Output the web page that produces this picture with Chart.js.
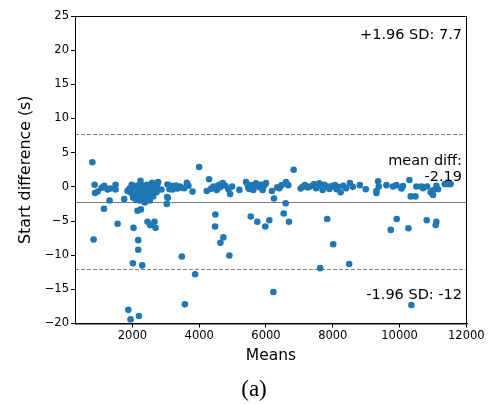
<!DOCTYPE html>
<html>
<head>
<meta charset="utf-8">
<script src="https://cdn.jsdelivr.net/npm/chart.js@4.4.0/dist/chart.umd.min.js"></script>
<style>
  html, body { margin: 0; padding: 0; background: #fff; }
  #wrap { width: 492px; height: 404px; }
</style>
</head>
<body>
<div id="wrap"><canvas id="myChart" width="492" height="404"></canvas></div>
<script>
// Means (x) og differanser (y) lest av figuren
const means = [
  800, 837, 1148, 1315, 1555, 2033, 2015, 2173, 2173, 2293, 1875, 1944, 2194, 2152, 2254,
  2451, 2532, 2661, 2691, 3480, 3570, 3877, 3997, 4484, 4475, 4725, 4635, 4903, 4296, 5543,
  5740, 5980, 6100, 6220, 6239, 6828, 6589, 6529, 6688, 7833, 8013, 7623, 8491, 9737, 9916,
  10266, 10813, 11082, 11103, 10356, 3030, 3061, 3800,
  867, 880, 957, 1076, 1157, 1255, 1336, 1495, 1495, 1755, 1854, 1913, 2003, 2084, 2152,
  2242, 2254, 2302, 2404, 2502, 2592, 2472, 2374, 2652, 2771, 2870, 3049, 3109, 3040, 3169,
  3348, 3429, 1943, 2024,
  3629, 3677, 3480, 4227, 4425, 4526, 4625, 4705, 4783, 4873, 4924, 4984, 5202, 5402, 5471,
  5572, 5620, 5800, 5901, 6000, 6179, 6338, 6469, 6598,
  6667, 7037, 7166, 7316, 7435, 7564, 7695, 7814, 7934, 8063, 8113, 8233, 8311, 8511, 8810,
  8989, 9309,
  9357, 9378, 9309, 9608, 9806, 9906, 10056, 10296, 10335, 10476, 10505, 10655, 10822, 10933, 11002,
  11103, 11152, 11351, 11451, 11530,
  1960, 1990, 2050, 2060, 2100, 2110, 2130, 2180, 2200, 2220, 2260, 2280, 2320, 2340, 2360,
  2420, 2440, 2460, 2500, 2520, 2540, 2560, 2600, 2620, 2700, 2720, 2740, 1980, 2150, 2090,
  3200, 3300, 3550, 4350, 4550, 4600, 5450, 5500, 5650, 5700, 5850, 5950, 6400, 7100, 7250,
  7500, 7600, 7750, 7900, 8000, 8150, 8400, 8600, 10100, 10700, 11000
];
const diffs = [
  3.6, -7.7, -3.2, -2.0, -5.4, -6.0, -11.2, -7.8, -9.2, -11.5, -18.0, -19.4, -18.9, -3.5, -3.3,
  -5.1, -5.6, -5.1, -6.0, -10.2, -17.2, -12.8, 2.9, -4.05, -5.8, -7.4, -8.2, -10.05, 1.1, -4.35,
  -5.1, -5.8, -4.9, -15.4, -1.7, 2.5, -2.4, -3.9, -5.1, -4.7, -8.4, -11.9, -11.3, -6.3, -4.7,
  -6.05, -4.9, -5.6, -5.1, -17.3, -2.5, -1.6, -0.7,
  0.3, -0.9, -0.7, -0.15, 0.15, -0.4, -0.25, 0.3, -0.4, -1.8, -0.6, -0.25, 0.05, -0.9, -0.6,
  0.9, -0.15, -1.3, -0.35, -0.05, 0.6, -1.7, -2.3, -0.15, 0.7, -0.4, 0.35, -0.35, -1.5, 0.15,
  -0.25, 0.05, -0.8, -1.6,
  0.6, 0.15, -0.15, -0.6, 0.05, -0.45, -0.05, 0.55, 0.15, -0.35, -1.05, 0.05, -0.45, 0.7, -0.15,
  0.25, -0.45, -0.05, -0.45, 0.55, -0.6, -0.05, 0.25, 0.7,
  0.25, -0.25, 0.25, 0.05, 0.4, 0.25, -0.45, 0.05, 0.05, 0.25, -0.35, -0.8, 0.15, 0.55, 0.25,
  -0.35, -0.9,
  0.8, 0.05, -0.6, 0.25, 0.05, 0.25, -0.25, 1.0, -1.4, -1.4, 0.05, 0.05, 0.05, -0.8, -1.2,
  0.15, -0.35, 0.4, 0.4, 0.4,
  -0.3, -1.0, -0.4, -1.3, -0.2, -1.9, -0.8, -1.2, -0.3, -2.0, -0.9, -0.5, 0.2, -0.8, -1.6,
  -0.9, 0.3, -1.2, -0.6, -2.0, 0.2, -1.0, -0.5, -1.4, -0.3, -0.8, 0.3, 0.3, 0.2, 0.0,
  -0.4, 0.2, -0.2, -0.3, 0.1, 0.3, 0.3, -0.3, 0.1, 0.5, 0.3, 0.2, -0.2, 0.0, -0.1,
  -0.2, 0.5, 0.3, -0.3, 0.1, 0.0, -0.2, 0.0, 0.1, -0.2, -0.5
];

// Tick-verdier
const xTicks = [2000, 4000, 6000, 8000, 10000, 12000];
const yTicks = [-20, -15, -10, -5, 0, 5, 10, 15, 20, 25];

// Statistikk (linjer og tekst)
const meanDiff = -2.19;
const upperLoA = 7.7;
const lowerLoA = -12.08;

const FONT = 'DejaVu Sans';

// Linjer, tekst, ramme og "(a)"
const baPlugin = {
  id: 'baPlugin',
  beforeDatasetsDraw(chart) {
    const ctx = chart.ctx;
    const area = chart.chartArea;
    const y = chart.scales.y;
    ctx.save();
    ctx.lineWidth = 1;
    ctx.strokeStyle = '#808080';
    [[upperLoA, [4, 2]], [meanDiff, []], [lowerLoA, [4, 2]]].forEach(function (l) {
      const py = Math.round(y.getPixelForValue(l[0])) + 0.5;
      ctx.setLineDash(l[1]);
      ctx.beginPath();
      ctx.moveTo(area.left, py);
      ctx.lineTo(area.right, py);
      ctx.stroke();
    });
    ctx.restore();
  },
  afterDraw(chart) {
    const ctx = chart.ctx;
    const area = chart.chartArea;
    const y = chart.scales.y;
    ctx.save();
    // ramme
    ctx.strokeStyle = '#000';
    ctx.lineWidth = 1;
    ctx.strokeRect(area.left + 0.5, area.top + 0.5, area.right - area.left - 1, area.bottom - area.top);
    // tekst
    ctx.fillStyle = '#000';
    ctx.font = '14.5px "' + FONT + '"';
    ctx.textAlign = 'right';
    ctx.textBaseline = 'middle';
    const tx = area.right - 5;
    ctx.fillText('+1.96 SD: ' + upperLoA, tx, area.top + 19);
    const my = y.getPixelForValue(meanDiff);
    ctx.fillText('mean diff:', tx, my - 41);
    ctx.fillText(String(meanDiff), tx, my - 25);
    ctx.fillText('-1.96 SD: ' + Math.round(lowerLoA), tx, y.getPixelForValue(lowerLoA) + 26);
    // "(a)"
    ctx.font = '23px "Liberation Serif"';
    ctx.textAlign = 'center';
    ctx.fillText('(a)', 254, 390);
    ctx.restore();
  }
};

function lagPlot() {
  const punkter = means.map(function (m, i) { return { x: m, y: diffs[i] }; });
  const ctx = document.getElementById('myChart').getContext('2d');
  new Chart(ctx, {
    type: 'scatter',
    data: {
      datasets: [{
        data: punkter,
        backgroundColor: '#1f77b4',
        borderWidth: 0,
        pointRadius: 3.3,
        pointHoverRadius: 3.3
      }]
    },
    options: {
      responsive: false,
      animation: false,
      devicePixelRatio: 1,
      layout: { padding: { left: 0, top: 16, right: 25, bottom: 35.5 } },
      plugins: { legend: { display: false }, tooltip: { enabled: false } },
      scales: {
        x: {
          type: 'linear',
          min: 280,
          max: 12020,
          afterBuildTicks: function (scale) {
            scale.ticks = xTicks.map(function (v) { return { value: v }; });
          },
          afterFit: function (scale) { scale.height = 45; },
          grid: { drawOnChartArea: false, drawTicks: true, tickLength: 4, color: '#000' },
          border: { display: true, color: '#000', width: 1 },
          ticks: {
            color: '#000',
            font: { family: FONT, size: 11.5 },
            padding: 2,
            maxRotation: 0,
            autoSkip: false,
            callback: function (v) { return String(v); }
          },
          title: {
            display: true,
            text: 'Means',
            color: '#000',
            font: { family: FONT, size: 15.5 },
            padding: { top: 0, bottom: 3 }
          }
        },
        y: {
          min: -20,
          max: 25,
          afterBuildTicks: function (scale) {
            scale.ticks = yTicks.map(function (v) { return { value: v }; });
          },
          afterFit: function (scale) { scale.width = 75; },
          grid: { drawOnChartArea: false, drawTicks: true, tickLength: 4, color: '#000' },
          border: { display: true, color: '#000', width: 1 },
          ticks: {
            color: '#000',
            font: { family: FONT, size: 11.5 },
            padding: 2,
            callback: function (v) { return v < 0 ? '\u2212' + Math.abs(v) : String(v); }
          },
          title: {
            display: true,
            text: 'Start difference (s)',
            color: '#000',
            font: { family: FONT, size: 15.8 },
            padding: { top: 16, bottom: 0 }
          }
        }
      }
    },
    plugins: [baPlugin]
  });
}

window.onload = function () {
  lagPlot();
};
</script>
</body>
</html>
